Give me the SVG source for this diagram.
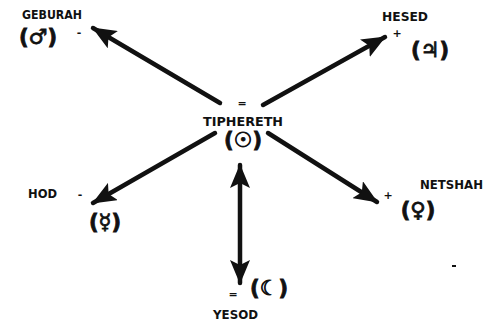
<svg xmlns="http://www.w3.org/2000/svg" width="485" height="325" viewBox="0 0 485 325">
<defs>
<marker id="ah" viewBox="0 0 24 20" refX="23" refY="10" markerWidth="24" markerHeight="20" markerUnits="userSpaceOnUse" orient="auto-start-reverse">
<path d="M0,0 L24,10 L0,20 L5,10 Z" fill="#111"/>
</marker>
</defs>
<style>
.lbl{font-family:"DejaVu Sans Condensed","DejaVu Sans",sans-serif;font-weight:bold;font-size:12.5px;fill:#111}
.sym{font-family:"DejaVu Sans","Noto Sans",sans-serif;font-weight:bold;font-size:21px;fill:#111;stroke:#111;stroke-width:0.8}
.mk{font-family:"DejaVu Sans",sans-serif;font-weight:bold;font-size:11px;fill:#111}
.ar{stroke:#111;stroke-width:4.5;stroke-linecap:round;fill:none}
</style>
<rect width="485" height="325" fill="#fff"/>
<g id="connectors">
<line class="ar" x1="220" y1="103" x2="93" y2="28" marker-end="url(#ah)"/>
<line class="ar" x1="263" y1="105" x2="385" y2="37" marker-end="url(#ah)"/>
<line class="ar" x1="215" y1="133" x2="93" y2="203" marker-end="url(#ah)"/>
<line class="ar" x1="268" y1="133" x2="377" y2="202" marker-end="url(#ah)"/>
<line class="ar" x1="240" y1="165" x2="240" y2="283" stroke-width="3.5" marker-start="url(#ah)" marker-end="url(#ah)"/>
</g>
<g id="tiphereth">
<text class="mk" x="242" y="107" text-anchor="middle">=</text>
<text class="lbl" x="243" y="126" text-anchor="middle" textLength="80" lengthAdjust="spacingAndGlyphs">TIPHERETH</text>
<text class="sym" x="243" y="147" text-anchor="middle">(☉)</text>
</g>
<g id="geburah">
<text class="lbl" x="22" y="19" textLength="60" lengthAdjust="spacingAndGlyphs">GEBURAH</text>
<text class="sym" x="38" y="44" text-anchor="middle">(♂)</text>
<text class="mk" x="79" y="36" text-anchor="middle">-</text>
</g>
<g id="hesed">
<text class="lbl" x="382" y="21" textLength="46" lengthAdjust="spacingAndGlyphs">HESED</text>
<text class="mk" x="397" y="37" text-anchor="middle">+</text>
<text class="sym" x="430" y="57" text-anchor="middle">(♃)</text>
</g>
<g id="hod">
<text class="lbl" x="28" y="198" textLength="29" lengthAdjust="spacingAndGlyphs">HOD</text>
<text class="mk" x="80" y="198" text-anchor="middle">-</text>
<text class="sym" x="105" y="229" text-anchor="middle">(☿)</text>
</g>
<g id="netshah">
<text class="lbl" x="420" y="189" textLength="63" lengthAdjust="spacingAndGlyphs">NETSHAH</text>
<text class="mk" x="388" y="199" text-anchor="middle">+</text>
<text class="sym" x="418" y="217" text-anchor="middle">(♀)</text>
</g>
<g id="yesod">
<text class="mk" x="233" y="298" text-anchor="middle">=</text>
<text class="lbl" x="213" y="319" textLength="45" lengthAdjust="spacingAndGlyphs">YESOD</text>
<text class="sym" x="269" y="295" text-anchor="middle">(☾)</text>
</g>
<rect x="452" y="265" width="4" height="2" fill="#111"/>
</svg>
